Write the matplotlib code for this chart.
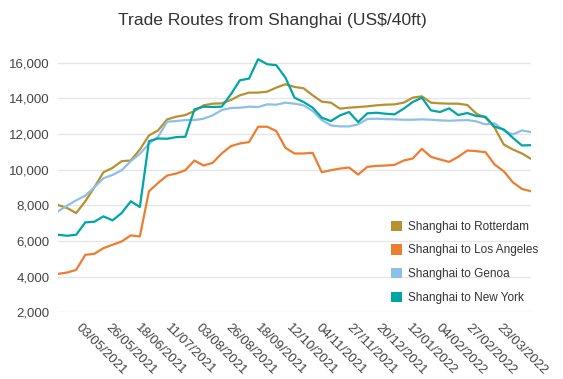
import numpy as np
import pandas as pd
from matplotlib import pyplot as plt
from matplotlib.patches import Patch
from matplotlib.transforms import ScaledTranslation, blended_transform_factory

plt.rcParams["font.family"] = ["Liberation Sans", "DejaVu Sans"]

# weekly freight rates, US$ per 40ft container
dates = pd.date_range("2021-04-20", periods=53, freq="7D")

rotterdam = [8015, 7846, 7565, 8221, 9008, 9852, 10096, 10471, 10508, 11127, 11914, 12195, 12814, 12963,
             13057, 13282, 13601, 13694, 13713, 13901, 14163, 14313, 14313, 14369, 14594, 14782, 14632,
             14557, 14163, 13807, 13751, 13413, 13470, 13507, 13544, 13601, 13638, 13657, 13751, 14032,
             14107, 13751, 13713, 13694, 13694, 13620, 13132, 12907, 12345, 11407, 11126, 10902, 10602]

los_angeles = [4154, 4229, 4379, 5222, 5278, 5597, 5785, 5972, 6309, 6253, 8784, 9252, 9665, 9777,
               9964, 10508, 10227, 10377, 10902, 11314, 11464, 11539, 12401, 12401, 12157, 11220, 10902,
               10902, 10939, 9852, 9964, 10058, 10114, 9721, 10152, 10208, 10227, 10264, 10508, 10621,
               11164, 10714, 10565, 10433, 10714, 11070, 11033, 10976, 10283, 9908, 9290, 8915, 8784]

genoa = [7659, 7978, 8277, 8540, 9008, 9515, 9702, 9964, 10471, 10883, 11445, 11839, 12682, 12720,
         12776, 12776, 12851, 13038, 13338, 13451, 13470, 13526, 13507, 13657, 13638, 13751, 13694,
         13601, 13282, 12776, 12476, 12420, 12420, 12532, 12832, 12851, 12832, 12814, 12795, 12795,
         12814, 12795, 12757, 12739, 12757, 12776, 12701, 12532, 12589, 12195, 11970, 12195, 12101]

new_york = [6347, 6291, 6347, 7040, 7078, 7378, 7153, 7565, 8221, 7903, 11595, 11745, 11726, 11820,
            11839, 13376, 13526, 13507, 13526, 14219, 15007, 15100, 16187, 15906, 15850, 15157, 14032,
            13788, 13470, 12907, 12720, 13038, 13226, 12664, 13151, 13188, 13132, 13095, 13413, 13788,
            14032, 13320, 13226, 13432, 13057, 13170, 13001, 12963, 12401, 12251, 11782, 11351, 11370]

series = ["Shanghai to Rotterdam", "Shanghai to Los Angeles", "Shanghai to Genoa", "Shanghai to New York"]
colors = ["#b8902f", "#ed7d31", "#8cc0e6", "#00a5a5"]

tick_labels = ["03/05/2021", "26/05/2021", "18/06/2021", "11/07/2021", "03/08/2021", "26/08/2021",
               "18/09/2021", "12/10/2021", "04/11/2021", "27/11/2021", "20/12/2021", "12/01/2022",
               "04/02/2022", "27/02/2022", "23/03/2022"]

fig = plt.figure(figsize=(5.63, 3.79), dpi=100)
ax = fig.add_axes([58 / 563, 1 - 312.3 / 379, 473 / 563, (312.3 - 44.7) / 379])

for values, color in zip([rotterdam, los_angeles, genoa, new_york], colors):
    ax.plot(dates, values, color=color, lw=1.6, solid_joinstyle="round")

ax.set_xlim(dates[0], dates[-1])
ax.set_ylim(2000, 17000)
ax.set_yticks(np.arange(2000, 16001, 2000))
ax.set_yticklabels([f"{v:,}" for v in range(2000, 16001, 2000)], fontsize=9.5, color="#444444")

# rotated date labels, drawn as text so they can sit just right of their tick
ax.set_xticks([])
trans = blended_transform_factory(ax.transData, ax.transAxes) + \
    ScaledTranslation(7 / 100, -9 / 100, fig.dpi_scale_trans)
for d in tick_labels:
    ax.text(pd.to_datetime(d, format="%d/%m/%Y"), 0, d, transform=trans, rotation=-45,
            ha="left", va="top", rotation_mode="anchor", fontsize=9.5, color="#444444")

ax.grid(axis="y", color="#e6e6e6", lw=1)
ax.set_axisbelow(True)
ax.tick_params(length=0)
ax.tick_params(axis="y", pad=6)
for s in ax.spines.values():
    s.set_visible(False)

handles = [Patch(facecolor=c, edgecolor="none") for c in colors]
ax.legend(handles, series, loc="upper left", bbox_to_anchor=(386 / 563, 1 - 216 / 379),
          bbox_transform=fig.transFigure, frameon=False, fontsize=8.5, labelcolor="#333333",
          handlelength=0.95, handleheight=0.95, handletextpad=0.5, labelspacing=0.97,
          borderaxespad=0)

fig.text(272 / 563, 1 - 21 / 379, "Trade Routes from Shanghai (US$/40ft)", ha="center", va="center",
         fontsize=12.6, color="#333333")

plt.savefig("out.png")
plt.close()
